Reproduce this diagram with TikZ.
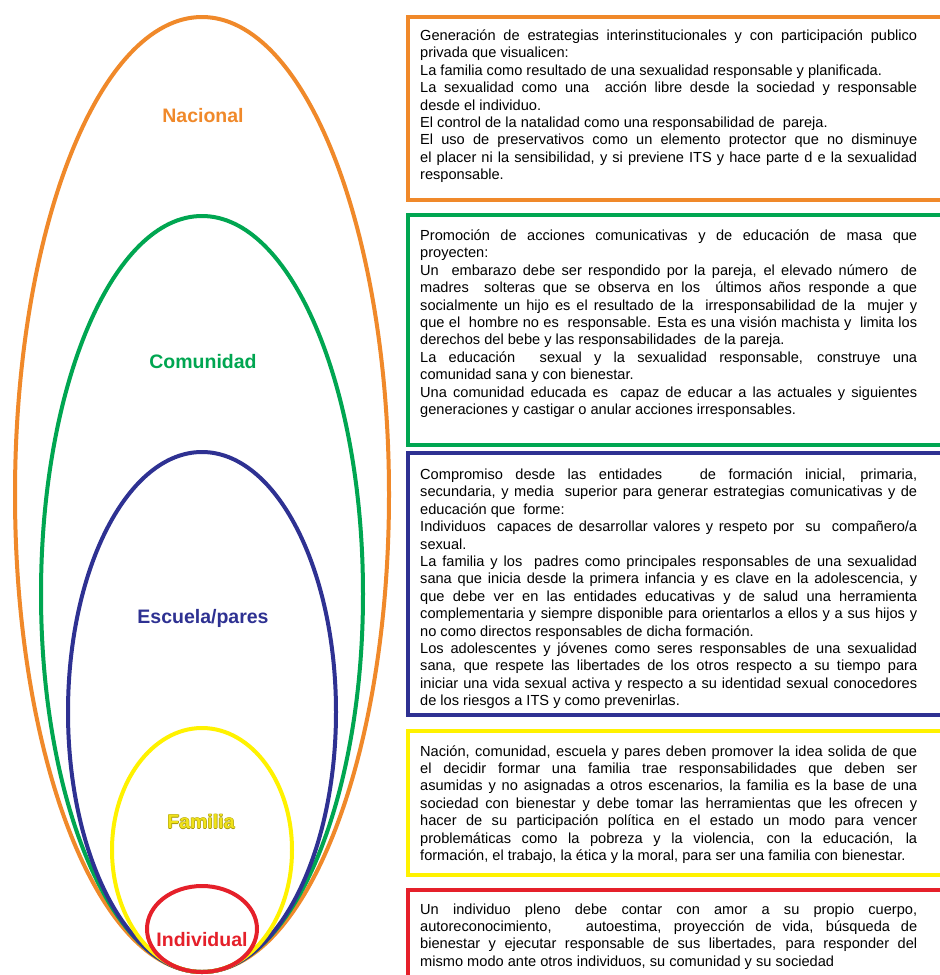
\documentclass[tikz,border=0pt]{standalone}
\usepackage{fontspec}
\setmainfont{Liberation Sans}
\definecolor{cOra}{HTML}{F0892A}
\definecolor{cGre}{HTML}{00A651}
\definecolor{cBlu}{HTML}{2E3192}
\definecolor{cYel}{HTML}{FFF200}
\definecolor{cRed}{HTML}{E5202A}
\definecolor{cYelTxt}{HTML}{F0E21A}
\definecolor{cOlive}{HTML}{A89A10}
\newcommand\jline[1]{\hbox to 497pt{#1}}
\newcommand\fline[1]{\hbox{#1}}
\newcommand\outlinedtext[3]{\leavevmode
  \rlap{\color{#1}\kern0.6pt#3}\rlap{\color{#1}\kern-0.6pt#3}%
  \rlap{\color{#1}\raisebox{0.6pt}{#3}}\rlap{\color{#1}\raisebox{-0.6pt}{#3}}%
  {\color{#2}#3}}
\tikzset{
  ring/.style={line width=4pt},
  frame/.style={line width=4pt},
  para/.style={anchor=base west, inner sep=0pt, text=black,
    font=\fontsize{14.6}{17.4}\selectfont},
  lab/.style={inner sep=0pt, font=\fontsize{19.5}{22}\selectfont\bfseries},
}
\begin{document}
\begin{tikzpicture}[x=1pt,y=-1pt]
\useasboundingbox (0,0) rectangle (940,975);
\fill[white] (0,0) rectangle (940,975);
\begin{scope}
\clip (0,0) rectangle (940,975);
% nested ellipses
\draw[ring, cOra] (202,494.5) ellipse [x radius=187, y radius=477.5];
\draw[ring, cGre] (202,594) ellipse [x radius=161, y radius=378];
\draw[ring, cBlu] (202,712) ellipse [x radius=134, y radius=260];
\draw[ring, cYel] (202,850) ellipse [x radius=90, y radius=122];
\draw[ring, cRed] (202,929) ellipse [x radius=55, y radius=43];
% frames
\draw[frame, cOra] (960,17) -- (408,17) -- (408,200) -- (960,200);
\draw[frame, cGre] (960,215) -- (408,215) -- (408,445) -- (960,445);
\draw[frame, cBlu] (960,453) -- (408,453) -- (408,715) -- (960,715);
\draw[frame, cYel] (960,731) -- (408,731) -- (408,875) -- (960,875);
\draw[frame, cRed] (960,890) -- (408,890) -- (408,990);
\end{scope}
% labels
\node[lab, text=cOra] (nac) at (203,116) {Nacional};
\node[lab, text=cGre] (com) at (203,362) {Comunidad};
\node[lab, text=cBlu] (esc) at (203,618) {Escuela/pares};
\node[lab] (fam) at (201,822) {\outlinedtext{cOlive}{cYelTxt}{Familia}};
\node[lab, text=cRed] (ind) at (202,940) {Individual};
% texts
\node[para] (t1) at (420,40.5) {\vtop{%
\jline{Generación de estrategias interinstitucionales y con participación publico}
\fline{privada que visualicen:}
\fline{La familia como resultado de una sexualidad responsable y planificada.}
\jline{La sexualidad como una \ acción libre desde la sociedad y responsable}
\fline{desde el individuo.}
\fline{El control de la natalidad como una responsabilidad de \ pareja.}
\jline{El uso de preservativos como un elemento protector que no disminuye}
\jline{el placer ni la sensibilidad, y si previene ITS y hace parte d e la sexualidad}
\fline{responsable.}}};
\node[para] (t2) at (420,240.5) {\vtop{%
\jline{Promoción de acciones comunicativas y de educación de masa que}
\fline{proyecten:}
\jline{Un \ embarazo debe ser respondido por la pareja, el elevado número \ de}
\jline{madres \ solteras que se observa en los \ últimos años responde a que}
\jline{socialmente un hijo es el resultado de la \ irresponsabilidad de la \ mujer y}
\jline{que el \ hombre no es \ responsable. Esta es una visión machista y \ limita los}
\fline{derechos del bebe y las responsabilidades \ de la pareja.}
\jline{La educación \ sexual y la sexualidad responsable, construye una}
\fline{comunidad sana y con bienestar.}
\jline{Una comunidad educada es \ capaz de educar a las actuales y siguientes}
\fline{generaciones y castigar o anular acciones irresponsables.}}};
\node[para] (t3) at (420,479.5) {\vtop{%
\jline{Compromiso desde las entidades \ \ de formación inicial, primaria,}
\jline{secundaria, y media \ superior para generar estrategias comunicativas y de}
\fline{educación que \ forme:}
\jline{Individuos \ capaces de desarrollar valores y respeto por \ su \ compañero/a}
\fline{sexual.}
\jline{La familia y los \ padres como principales responsables de una sexualidad}
\jline{sana que inicia desde la primera infancia y es clave en la adolescencia, y}
\jline{que debe ver en las entidades educativas y de salud una herramienta}
\jline{complementaria y siempre disponible para orientarlos a ellos y a sus hijos y}
\fline{no como directos responsables de dicha formación.}
\jline{Los adolescentes y jóvenes como seres responsables de una sexualidad}
\jline{sana, que respete las libertades de los otros respecto a su tiempo para}
\jline{iniciar una vida sexual activa y respecto a su identidad sexual conocedores}
\fline{de los riesgos a ITS y como prevenirlas.}}};
\node[para] (t4) at (420,756) {\vtop{%
\jline{Nación, comunidad, escuela y pares deben promover la idea solida de que}
\jline{el decidir formar una familia trae responsabilidades que deben ser}
\jline{asumidas y no asignadas a otros escenarios, la familia es la base de una}
\jline{sociedad con bienestar y debe tomar las herramientas que les ofrecen y}
\jline{hacer de su participación política en el estado un modo para vencer}
\jline{problemáticas como la pobreza y la violencia, con la educación, la}
\fline{formación, el trabajo, la ética y la moral, para ser una familia con bienestar.}}};
\node[para] (t5) at (420,914) {\vtop{%
\jline{Un individuo pleno debe contar con amor a su propio cuerpo,}
\jline{autoreconocimiento, \ \ autoestima, proyección de vida, búsqueda de}
\jline{bienestar y ejecutar responsable de sus libertades, para responder del}
\fline{mismo modo ante otros individuos, su comunidad y su sociedad}}};
\end{tikzpicture}
\end{document}
